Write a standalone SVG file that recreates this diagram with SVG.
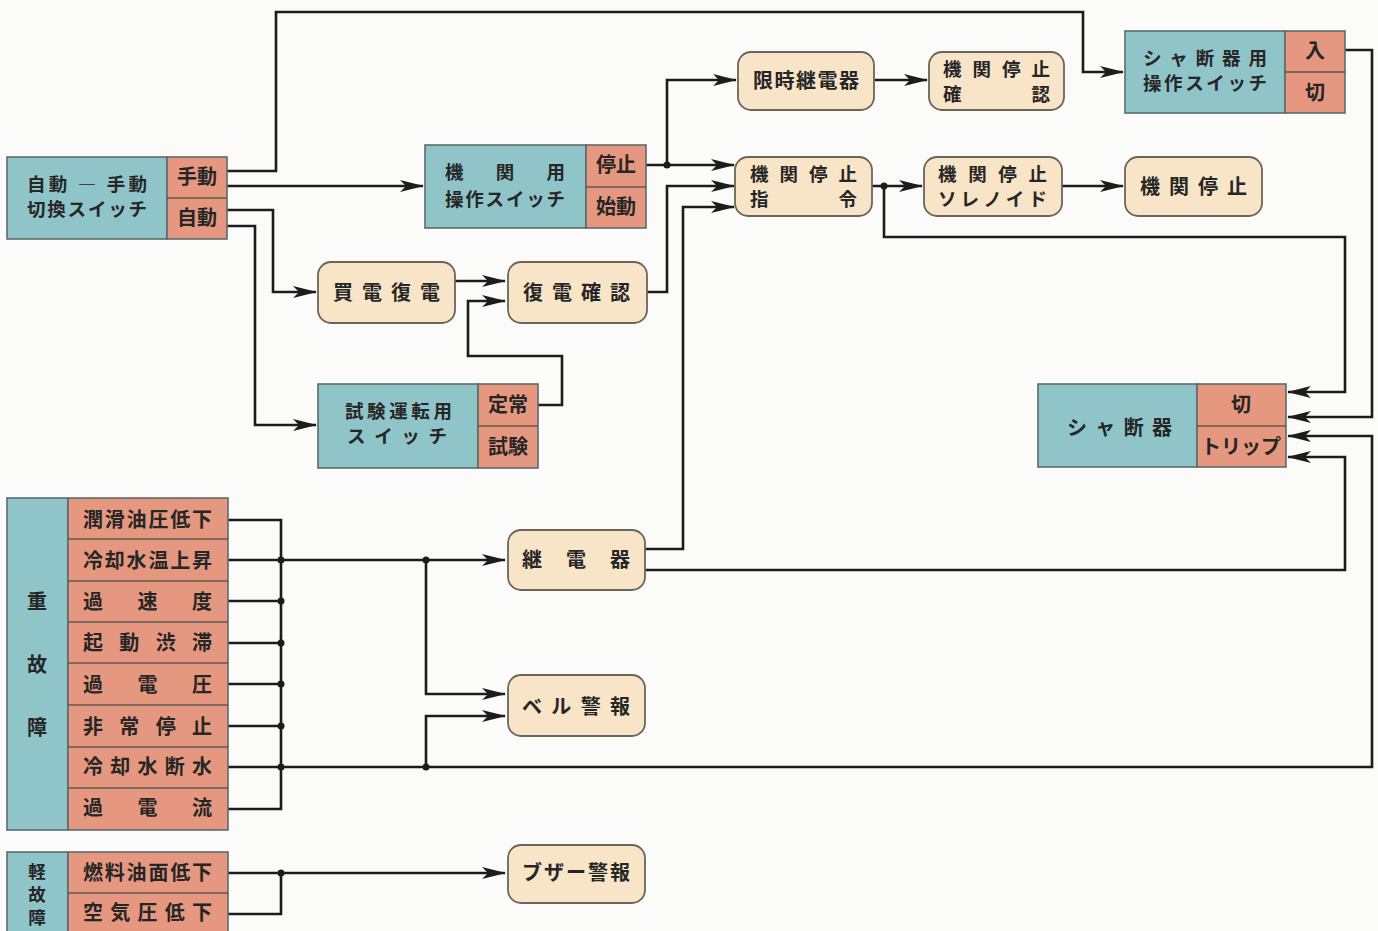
<svg xmlns="http://www.w3.org/2000/svg" width="1378" height="931" viewBox="0 0 1378 931">
<style>
.bg{fill:#fbfbfa}
.blue{fill:#8fc4c8;stroke:#5d6b6b;stroke-width:1.6}
.org{fill:#e5987f;stroke:#5d6b6b;stroke-width:1.6}
.bei{fill:#f8e4c6;stroke:#6b6458;stroke-width:1.8}
.div{stroke:#5d5a55;stroke-width:1.6;fill:none}
.t{font-family:"Noto Sans CJK JP","Noto Sans",sans-serif;font-size:20px;font-weight:700;fill:#262626}
.s{font-size:18.5px}
.c{text-anchor:middle}
.w{stroke:#1c1c1c;stroke-width:2.6;fill:none;stroke-linejoin:miter}
.a{marker-end:url(#arr)}
.dot{fill:#1c1c1c}
</style>
<defs>
<marker id="arr" markerUnits="userSpaceOnUse" markerWidth="24" markerHeight="14" refX="23" refY="7" orient="auto">
<path d="M0,1 L24,7 L0,13 L6,7 z" fill="#1c1c1c"/>
</marker>
</defs>
<rect class="bg" x="0" y="0" width="1378" height="931"/>

<g id="connectors">
<polyline class="w a" points="227,171 276,171 276,12 1083,12 1083,72 1123,72"/>
<polyline class="w a" points="227,186 423,186"/>
<polyline class="w a" points="227,210 273,210 273,292 316,292"/>
<polyline class="w a" points="227,226 255,226 255,425 316,425"/>
<polyline class="w a" points="646,165 734,165"/>
<polyline class="w a" points="667,165 667,80 736,80"/>
<polyline class="w a" points="647,292 667,292 667,186 734,186"/>
<polyline class="w a" points="645,549 683,549 683,207 734,207"/>
<polyline class="w a" points="455,281 505,281"/>
<polyline class="w a" points="538,405 562,405 562,356 468,356 468,301 505,301"/>
<polyline class="w a" points="875,80 927,80"/>
<polyline class="w a" points="872,186 922,186"/>
<polyline class="w a" points="884,186 884,237 1345,237 1345,392 1288,392"/>
<polyline class="w a" points="1062,186 1123,186"/>
<polyline class="w a" points="1345,50 1372,50 1372,417 1288,417"/>
<polyline class="w a" points="227,767 1372,767 1372,436 1288,436"/>
<polyline class="w a" points="645,570 1345,570 1345,457 1288,457"/>
<path class="w" d="M228,520 H281 V809 H228 M228,601 H281 M228,643 H281 M228,684 H281 M228,726 H281"/>
<polyline class="w a" points="228,560 505,560"/>
<polyline class="w a" points="426,560 426,694 505,694"/>
<polyline class="w a" points="426,767 426,716 505,716"/>
<polyline class="w a" points="228,873 505,873"/>
<polyline class="w" points="228,914 281,914 281,873"/>
<circle class="dot" cx="667" cy="165" r="3.5"/>
<circle class="dot" cx="884" cy="186" r="3.5"/>
<circle class="dot" cx="281" cy="560" r="3.5"/>
<circle class="dot" cx="281" cy="601" r="3.5"/>
<circle class="dot" cx="281" cy="643" r="3.5"/>
<circle class="dot" cx="281" cy="684" r="3.5"/>
<circle class="dot" cx="281" cy="726" r="3.5"/>
<circle class="dot" cx="281" cy="767" r="3.5"/>
<circle class="dot" cx="426" cy="560" r="3.5"/>
<circle class="dot" cx="426" cy="767" r="3.5"/>
<circle class="dot" cx="281" cy="873" r="3.5"/>
</g>

<g id="auto-manual-switch">
<rect class="blue" x="7" y="157" width="160" height="82"/>
<rect class="org" x="167" y="157" width="60" height="82"/>
<line class="div" x1="167" y1="198" x2="227" y2="198"/>
<text class="t s" x="27" y="191" textLength="120" lengthAdjust="spacing">自動 ― 手動</text>
<text class="t s" x="27" y="216" textLength="120" lengthAdjust="spacing">切換スイッチ</text>
<text class="t c" x="197" y="184">手動</text>
<text class="t c" x="197" y="225">自動</text>
</g>

<g id="engine-op-switch">
<rect class="blue" x="425" y="145" width="161" height="83"/>
<rect class="org" x="586" y="145" width="60" height="83"/>
<line class="div" x1="586" y1="187" x2="646" y2="187"/>
<text class="t s" x="445" y="179" textLength="120" lengthAdjust="spacing">機関用</text>
<text class="t s" x="445" y="206" textLength="120" lengthAdjust="spacing">操作スイッチ</text>
<text class="t c" x="616" y="172">停止</text>
<text class="t c" x="616" y="214">始動</text>
</g>

<g id="time-relay">
<rect class="bei" x="738" y="52" width="136" height="58" rx="13"/>
<text class="t c" x="806" y="88" textLength="106" lengthAdjust="spacing">限時継電器</text>
</g>

<g id="stop-confirm">
<rect class="bei" x="929" y="52" width="135" height="58" rx="13"/>
<text class="t s" x="943" y="76" textLength="107" lengthAdjust="spacing">機関停止</text>
<text class="t s" x="943" y="101" textLength="107" lengthAdjust="spacing">確認</text>
</g>

<g id="breaker-op-switch">
<rect class="blue" x="1125" y="31" width="160" height="82"/>
<rect class="org" x="1285" y="31" width="60" height="82"/>
<line class="div" x1="1285" y1="72" x2="1345" y2="72"/>
<text class="t s" x="1143" y="65" textLength="124" lengthAdjust="spacing">シャ断器用</text>
<text class="t s" x="1143" y="90" textLength="124" lengthAdjust="spacing">操作スイッチ</text>
<text class="t c" x="1315" y="58">入</text>
<text class="t c" x="1315" y="100">切</text>
</g>

<g id="stop-command">
<rect class="bei" x="735" y="157" width="137" height="59" rx="13"/>
<text class="t s" x="750" y="181" textLength="107" lengthAdjust="spacing">機関停止</text>
<text class="t s" x="750" y="206" textLength="107" lengthAdjust="spacing">指令</text>
</g>

<g id="stop-solenoid">
<rect class="bei" x="924" y="157" width="138" height="59" rx="13"/>
<text class="t s" x="938" y="181" textLength="109" lengthAdjust="spacing">機関停止</text>
<text class="t s" x="938" y="206" textLength="109" lengthAdjust="spacing">ソレノイド</text>
</g>

<g id="engine-stop">
<rect class="bei" x="1125" y="157" width="137" height="59" rx="13"/>
<text class="t" x="1140" y="194" textLength="107" lengthAdjust="spacing">機関停止</text>
</g>

<g id="purchase-restore">
<rect class="bei" x="318" y="262" width="137" height="61" rx="13"/>
<text class="t" x="333" y="300" textLength="107" lengthAdjust="spacing">買電復電</text>
</g>

<g id="restore-confirm">
<rect class="bei" x="508" y="262" width="139" height="61" rx="13"/>
<text class="t" x="523" y="300" textLength="107" lengthAdjust="spacing">復電確認</text>
</g>

<g id="test-run-switch">
<rect class="blue" x="318" y="384" width="160" height="84"/>
<rect class="org" x="478" y="384" width="60" height="84"/>
<line class="div" x1="478" y1="426" x2="538" y2="426"/>
<text class="t s" x="345" y="418" textLength="107" lengthAdjust="spacing">試験運転用</text>
<text class="t s" x="347" y="443" textLength="100" lengthAdjust="spacing">スイッチ</text>
<text class="t c" x="508" y="412">定常</text>
<text class="t c" x="508" y="454">試験</text>
</g>

<g id="breaker">
<rect class="blue" x="1038" y="384" width="159" height="83"/>
<rect class="org" x="1197" y="384" width="89" height="83"/>
<line class="div" x1="1197" y1="426" x2="1286" y2="426"/>
<text class="t" x="1067" y="435" textLength="105" lengthAdjust="spacing">シャ断器</text>
<text class="t c" x="1241" y="412">切</text>
<text class="t c" x="1241" y="454">トリップ</text>
</g>

<g id="relay">
<rect class="bei" x="508" y="530" width="137" height="60" rx="13"/>
<text class="t" x="522" y="567" textLength="108" lengthAdjust="spacing">継電器</text>
</g>

<g id="bell-alarm">
<rect class="bei" x="508" y="675" width="137" height="61" rx="13"/>
<text class="t" x="522" y="714" textLength="108" lengthAdjust="spacing">ベル警報</text>
</g>

<g id="buzzer-alarm">
<rect class="bei" x="508" y="845" width="137" height="58" rx="13"/>
<text class="t" x="522" y="880" textLength="108" lengthAdjust="spacing">ブザー警報</text>
</g>

<g id="heavy-fault">
<rect class="blue" x="7" y="498" width="61" height="332"/>
<rect class="org" x="68" y="498" width="160" height="332"/>
<path class="div" d="M68,539 H228 M68,581 H228 M68,622 H228 M68,663 H228 M68,705 H228 M68,747 H228 M68,788 H228"/>
<text class="t c" x="37" y="609">重</text>
<text class="t c" x="37" y="672">故</text>
<text class="t c" x="37" y="735">障</text>
<text class="t" x="83" y="527" textLength="129" lengthAdjust="spacing">潤滑油圧低下</text>
<text class="t" x="83" y="568" textLength="129" lengthAdjust="spacing">冷却水温上昇</text>
<text class="t" x="83" y="609" textLength="129" lengthAdjust="spacing">過速度</text>
<text class="t" x="83" y="650" textLength="129" lengthAdjust="spacing">起動渋滞</text>
<text class="t" x="83" y="692" textLength="129" lengthAdjust="spacing">過電圧</text>
<text class="t" x="83" y="734" textLength="129" lengthAdjust="spacing">非常停止</text>
<text class="t" x="83" y="774" textLength="129" lengthAdjust="spacing">冷却水断水</text>
<text class="t" x="83" y="815" textLength="129" lengthAdjust="spacing">過電流</text>
</g>

<g id="light-fault">
<rect class="blue" x="7" y="852" width="61" height="82"/>
<rect class="org" x="68" y="852" width="160" height="82"/>
<line class="div" x1="68" y1="893" x2="228" y2="893"/>
<text class="t c" x="37" y="878" style="font-size:17.5px">軽</text>
<text class="t c" x="37" y="901" style="font-size:17.5px">故</text>
<text class="t c" x="37" y="924" style="font-size:17.5px">障</text>
<text class="t" x="83" y="880" textLength="129" lengthAdjust="spacing">燃料油面低下</text>
<text class="t" x="83" y="920" textLength="129" lengthAdjust="spacing">空気圧低下</text>
</g>
</svg>
